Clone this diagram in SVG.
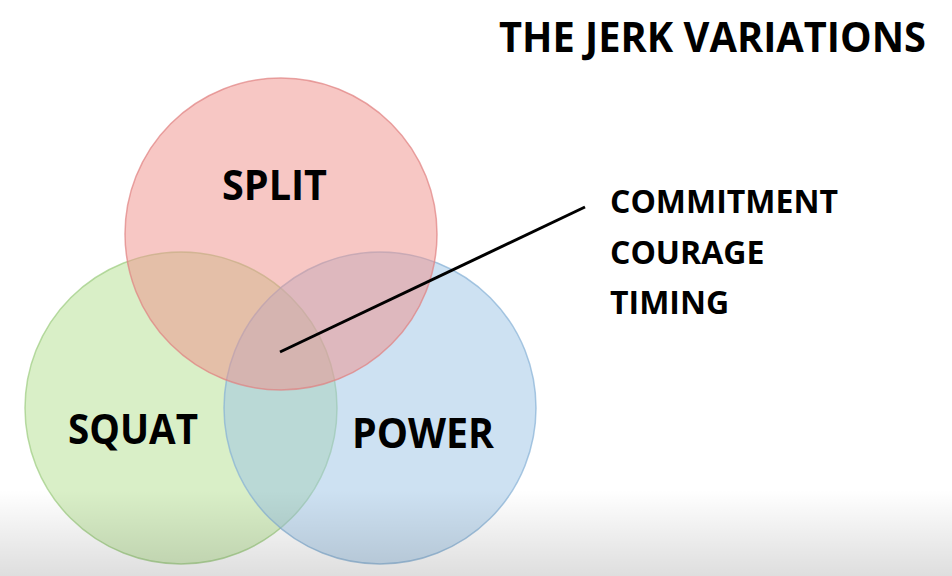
<svg xmlns="http://www.w3.org/2000/svg" width="952" height="576" viewBox="0 0 952 576">
<defs>
<style>
.lbl{font-family:"Open Sans","Liberation Sans",sans-serif;font-weight:700;fill:#000}
.big{font-size:42px}
.sm{font-size:32px}
.c{stroke-width:1.5}
</style>
<linearGradient id="shade" x1="0" y1="0" x2="0" y2="1">
<stop offset="0" stop-color="#000" stop-opacity="0"/>
<stop offset="1" stop-color="#000" stop-opacity="0.13"/>
</linearGradient>
</defs>
<rect width="952" height="576" fill="#fff"/>
<g id="squat">
<circle class="c" cx="181" cy="408" r="156" fill="#b3e090" fill-opacity="0.5" stroke="#9ccc80" stroke-opacity="0.7"/>
<text class="lbl big" x="133" y="444" text-anchor="middle" textLength="130" lengthAdjust="spacingAndGlyphs">SQUAT</text>
</g>
<g id="power">
<circle class="c" cx="380" cy="408" r="156" fill="#9cc3e6" fill-opacity="0.5" stroke="#86b0d6" stroke-opacity="0.7"/>
<text class="lbl big" x="423" y="448" text-anchor="middle" textLength="142" lengthAdjust="spacingAndGlyphs">POWER</text>
</g>
<g id="split">
<circle class="c" cx="281" cy="234" r="156" fill="#f08f8a" fill-opacity="0.5" stroke="#e08080" stroke-opacity="0.7"/>
<text class="lbl big" x="274.5" y="200" text-anchor="middle" textLength="105" lengthAdjust="spacingAndGlyphs">SPLIT</text>
</g>
<g id="connectors">
<line x1="280" y1="352" x2="585" y2="207" stroke="#000" stroke-width="3"/>
</g>
<g id="qualities">
<text class="lbl sm" x="610" y="213">COMMITMENT</text>
<text class="lbl sm" x="610" y="264">COURAGE</text>
<text class="lbl sm" x="610" y="314">TIMING</text>
</g>
<g id="title">
<text class="lbl big" x="499" y="52" textLength="427" lengthAdjust="spacingAndGlyphs">THE JERK VARIATIONS</text>
</g>
<rect x="0" y="490" width="952" height="86" fill="url(#shade)"/>
</svg>
